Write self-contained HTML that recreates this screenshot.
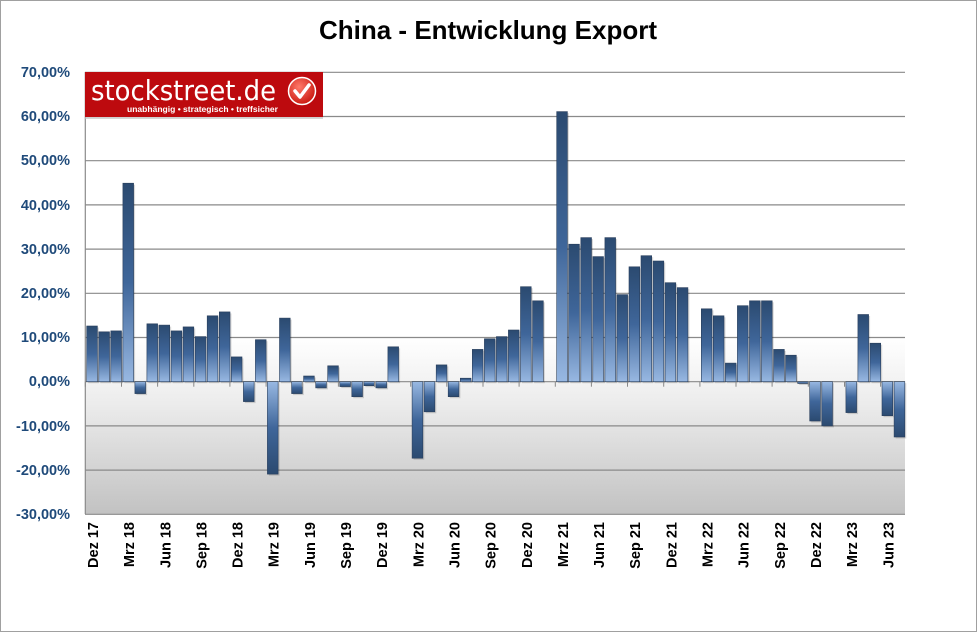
<!DOCTYPE html>
<html><head><meta charset="utf-8"><style>
html,body{margin:0;padding:0;background:#fff}
svg{display:block;font-family:"Liberation Sans",Arial,sans-serif}
</style></head><body>
<svg id="s" width="977" height="632" viewBox="0 0 977 632" xmlns="http://www.w3.org/2000/svg">
<defs>
<linearGradient id="bg" x1="0" y1="0" x2="0" y2="1">
<stop offset="0" stop-color="#ffffff"/><stop offset="0.6" stop-color="#ffffff"/><stop offset="0.75" stop-color="#ececec"/><stop offset="1" stop-color="#c2c2c2"/>
</linearGradient>
<linearGradient id="pos" x1="0" y1="0" x2="0" y2="1">
<stop offset="0" stop-color="#2b4a70"/><stop offset="0.5" stop-color="#3f669a"/><stop offset="1" stop-color="#98b8e2"/>
</linearGradient>
<linearGradient id="neg" x1="0" y1="0" x2="0" y2="1">
<stop offset="0" stop-color="#98b8e2"/><stop offset="0.5" stop-color="#3f669a"/><stop offset="1" stop-color="#2b4a70"/>
</linearGradient>
<radialGradient id="chk" cx="0.4" cy="0.35" r="0.7">
<stop offset="0" stop-color="#ff7a6a"/><stop offset="1" stop-color="#c8140c"/>
</radialGradient>
</defs>
<rect x="0.5" y="0.5" width="976" height="631" fill="#fff" stroke="#a0a0a0"/>
<text x="488" y="39" text-anchor="middle" font-size="26" font-weight="bold" fill="#000">China - Entwicklung Export</text>
<rect x="85" y="72" width="820" height="442" fill="url(#bg)"/>
<g stroke="#8a8a8a" stroke-width="1.2">
<line x1="85" y1="72.3" x2="905" y2="72.3"/><line x1="85" y1="116.5" x2="905" y2="116.5"/>
<line x1="85" y1="160.7" x2="905" y2="160.7"/><line x1="85" y1="204.9" x2="905" y2="204.9"/>
<line x1="85" y1="249.1" x2="905" y2="249.1"/><line x1="85" y1="293.3" x2="905" y2="293.3"/>
<line x1="85" y1="337.5" x2="905" y2="337.5"/><line x1="85" y1="381.7" x2="905" y2="381.7"/>
<line x1="85" y1="425.9" x2="905" y2="425.9"/><line x1="85" y1="470.1" x2="905" y2="470.1"/>
<line x1="85" y1="514.3" x2="905" y2="514.3"/>
<line x1="85.3" y1="72" x2="85.3" y2="514"/>
</g>
<g font-size="14.5" font-weight="bold" fill="#1f4a7a" text-anchor="end">
<text x="70" y="77">70,00%</text><text x="70" y="121">60,00%</text><text x="70" y="165">50,00%</text>
<text x="70" y="210">40,00%</text><text x="70" y="254">30,00%</text><text x="70" y="298">20,00%</text>
<text x="70" y="342">10,00%</text><text x="70" y="386">0,00%</text><text x="70" y="431">-10,00%</text>
<text x="70" y="475">-20,00%</text><text x="70" y="519">-30,00%</text>
</g>
<g id="bars"></g>
<g font-size="14.5" font-weight="bold" fill="#000" text-anchor="end">
<text transform="translate(98,522) rotate(-90)">Dez 17</text>
<text transform="translate(134.1,522) rotate(-90)">Mrz 18</text>
<text transform="translate(170.3,522) rotate(-90)">Jun 18</text>
<text transform="translate(206.4,522) rotate(-90)">Sep 18</text>
<text transform="translate(242.6,522) rotate(-90)">Dez 18</text>
<text transform="translate(278.7,522) rotate(-90)">Mrz 19</text>
<text transform="translate(314.9,522) rotate(-90)">Jun 19</text>
<text transform="translate(351,522) rotate(-90)">Sep 19</text>
<text transform="translate(387.2,522) rotate(-90)">Dez 19</text>
<text transform="translate(423.3,522) rotate(-90)">Mrz 20</text>
<text transform="translate(459.5,522) rotate(-90)">Jun 20</text>
<text transform="translate(495.6,522) rotate(-90)">Sep 20</text>
<text transform="translate(531.8,522) rotate(-90)">Dez 20</text>
<text transform="translate(567.9,522) rotate(-90)">Mrz 21</text>
<text transform="translate(604.1,522) rotate(-90)">Jun 21</text>
<text transform="translate(640.2,522) rotate(-90)">Sep 21</text>
<text transform="translate(676.4,522) rotate(-90)">Dez 21</text>
<text transform="translate(712.5,522) rotate(-90)">Mrz 22</text>
<text transform="translate(748.7,522) rotate(-90)">Jun 22</text>
<text transform="translate(784.8,522) rotate(-90)">Sep 22</text>
<text transform="translate(821,522) rotate(-90)">Dez 22</text>
<text transform="translate(857.1,522) rotate(-90)">Mrz 23</text>
<text transform="translate(893.3,522) rotate(-90)">Jun 23</text>
</g>
<rect x="85" y="72" width="238" height="45" fill="#bd0a0e"/>
<rect x="85" y="117" width="238" height="2" fill="#bbb" opacity="0.6"/>
<text x="91" y="100" font-size="28" fill="#fff" font-family="'DejaVu Sans',sans-serif" textLength="185" lengthAdjust="spacingAndGlyphs">stockstreet.de</text>
<text x="127" y="112" font-size="8.5" fill="#fff" font-weight="bold" textLength="151" lengthAdjust="spacingAndGlyphs">unabhängig • strategisch • treffsicher</text>
<circle cx="302" cy="91" r="13.5" fill="url(#chk)" stroke="#fff" stroke-width="1.5"/>
<path d="M295 91 l5 6 l9 -12" stroke="#fff" stroke-width="3.5" fill="none" stroke-linecap="round" stroke-linejoin="round"/>
</svg>
<script>
var v=[12.6,11.3,11.5,44.9,-2.7,13.1,12.8,11.5,12.4,10.2,14.9,15.8,5.6,-4.5,9.5,-20.9,14.4,-2.7,1.3,-1.4,3.6,-1.1,-3.4,-0.9,-1.4,7.9,null,-17.3,-6.8,3.8,-3.4,0.8,7.3,9.7,10.2,11.7,21.5,18.3,null,61.1,31.1,32.6,28.3,32.6,19.7,26.0,28.5,27.3,22.4,21.3,null,16.5,14.9,4.2,17.2,18.3,18.3,7.3,6.0,-0.4,-8.9,-10.0,null,-7.0,15.2,8.7,-7.7,-12.5];
var g=document.getElementById('bars'),z=381.7,k=4.42,s=12.05,h='';
for(var i=0;i<v.length;i++){if(v[i]===null)continue;var x=86.7+i*s,y=v[i]>=0?z-v[i]*k:z,hh=Math.max(Math.abs(v[i])*k,1.2);
h+='<rect x="'+(x+1.5).toFixed(1)+'" y="'+(y+1.5).toFixed(1)+'" width="10.7" height="'+hh.toFixed(1)+'" fill="#000" opacity="0.15"/>';
h+='<rect x="'+x.toFixed(1)+'" y="'+y.toFixed(1)+'" width="10.7" height="'+hh.toFixed(1)+'" fill="url(#'+(v[i]>=0?'pos':'neg')+')" stroke="#2a3f5c" stroke-width="0.6"/>';}
for(var j=0;j<=22;j++){var tx=85.3+j*3*s;h+='<line x1="'+tx.toFixed(1)+'" y1="'+z+'" x2="'+tx.toFixed(1)+'" y2="'+(z+5)+'" stroke="#888"/>';}
g.innerHTML=h;
</script>
</body></html>
